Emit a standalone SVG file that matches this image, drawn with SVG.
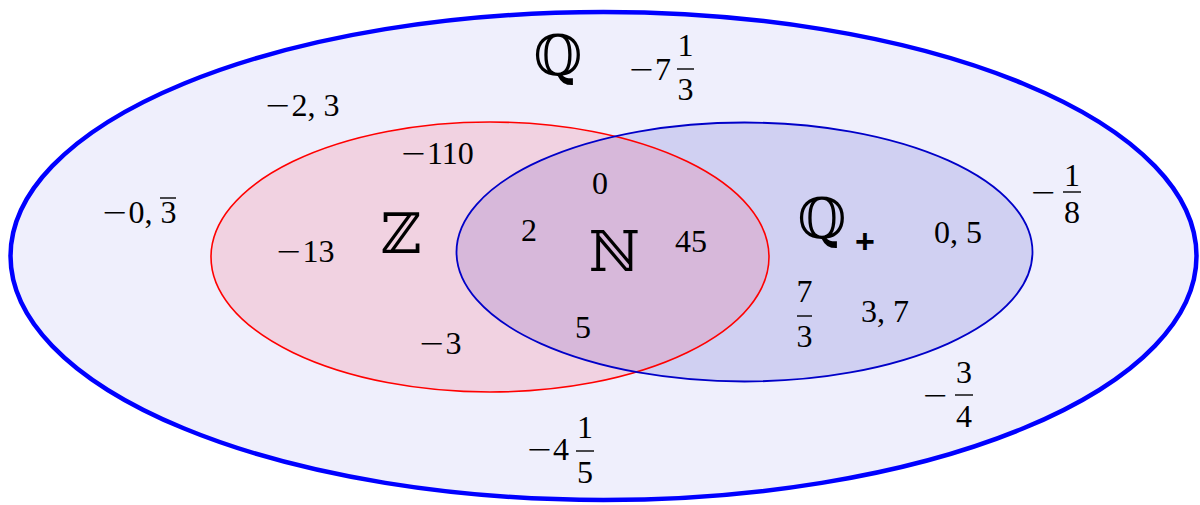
<svg xmlns="http://www.w3.org/2000/svg" width="1200" height="505" viewBox="0 0 1200 505">
  <style>
    .num { font-family: "Liberation Serif", "DejaVu Serif", serif; font-size: 32px; fill: #000; }
    .m { font-family: "DejaVu Sans", sans-serif; font-weight: 300; }
    .mid { text-anchor: middle; }
    .end { text-anchor: end; }
    .bb { font-family: "DejaVu Serif", "DejaVu Sans", serif; font-size: 56px; fill: #000; text-anchor: middle; }
    .plus { font-family: "Liberation Sans", "DejaVu Sans", sans-serif; font-weight: bold; font-size: 34px; fill: #000; text-anchor: middle; }
    .bar { stroke: #000; stroke-width: 1.4; }
  </style>
  <defs>
    <clipPath id="clipZ">
      <ellipse cx="490" cy="257" rx="279" ry="135"/>
    </clipPath>
  </defs>

  <g id="set-Q">
    <ellipse cx="603.5" cy="256" rx="593" ry="244" fill="#efeffc" stroke="#0000ff" stroke-width="4.5"/>
  </g>

  <g id="set-Z-fill">
    <ellipse cx="490" cy="257" rx="279" ry="135" fill="#f1d2e1"/>
  </g>
  <g id="set-Qplus-fill">
    <ellipse cx="744.5" cy="252" rx="288" ry="129.5" fill="#d0d0f2"/>
  </g>
  <g id="set-N">
    <ellipse cx="744.5" cy="252" rx="288" ry="129.5" fill="#d7b8da" clip-path="url(#clipZ)"/>
  </g>
  <g id="set-Z">
    <ellipse cx="490" cy="257" rx="279" ry="135" fill="none" stroke="#ff0000" stroke-width="1.6"/>
  </g>
  <g id="set-Qplus">
    <ellipse cx="744.5" cy="252" rx="288" ry="129.5" fill="none" stroke="#0000c8" stroke-width="1.8"/>
  </g>

  <g id="labels">
    <!-- set names -->
    <text class="bb" x="558" y="75">ℚ</text>
    <text class="bb" x="401" y="253">ℤ</text>
    <text class="bb" x="614" y="271">ℕ</text>
    <text class="bb" x="822" y="238">ℚ</text>
    <text class="plus" x="865" y="253">+</text>

    <!-- outer Q elements -->
    <text class="num mid" x="302" y="116"><tspan class="m">−</tspan>2, 3</text>
    <text class="num mid" x="139" y="223"><tspan class="m">−</tspan>0, 3</text>
    <line class="bar" x1="160" y1="198" x2="176" y2="198"/>

    <text class="num end" x="671" y="80"><tspan class="m">−</tspan>7</text>
    <text class="num mid" x="685.5" y="56">1</text>
    <line class="bar" x1="677" y1="69" x2="694" y2="69"/>
    <text class="num mid" x="685.5" y="100">3</text>

    <text class="num m" x="1030" y="203">−</text>
    <text class="num mid" x="1072" y="186">1</text>
    <line class="bar" x1="1063" y1="192" x2="1081" y2="192"/>
    <text class="num mid" x="1072" y="223">8</text>

    <text class="num m" x="922" y="406">−</text>
    <text class="num mid" x="964" y="383">3</text>
    <line class="bar" x1="955" y1="395" x2="973" y2="395"/>
    <text class="num mid" x="964" y="427">4</text>

    <text class="num end" x="569" y="460"><tspan class="m">−</tspan>4</text>
    <text class="num mid" x="585" y="438">1</text>
    <line class="bar" x1="576" y1="451" x2="594" y2="451"/>
    <text class="num mid" x="585" y="483">5</text>

    <!-- Z elements -->
    <text class="num mid" x="437" y="164"><tspan class="m">−</tspan>110</text>
    <text class="num mid" x="305" y="262"><tspan class="m">−</tspan>13</text>
    <text class="num mid" x="440" y="354"><tspan class="m">−</tspan>3</text>

    <!-- N elements -->
    <text class="num mid" x="600" y="194">0</text>
    <text class="num mid" x="529" y="241">2</text>
    <text class="num mid" x="691" y="252">45</text>
    <text class="num mid" x="583" y="338">5</text>

    <!-- Q+ elements -->
    <text class="num mid" x="958" y="243">0, 5</text>
    <text class="num mid" x="885" y="322">3, 7</text>
    <text class="num mid" x="804.5" y="302">7</text>
    <line class="bar" x1="797" y1="316" x2="812" y2="316"/>
    <text class="num mid" x="804.5" y="347">3</text>
  </g>
</svg>
